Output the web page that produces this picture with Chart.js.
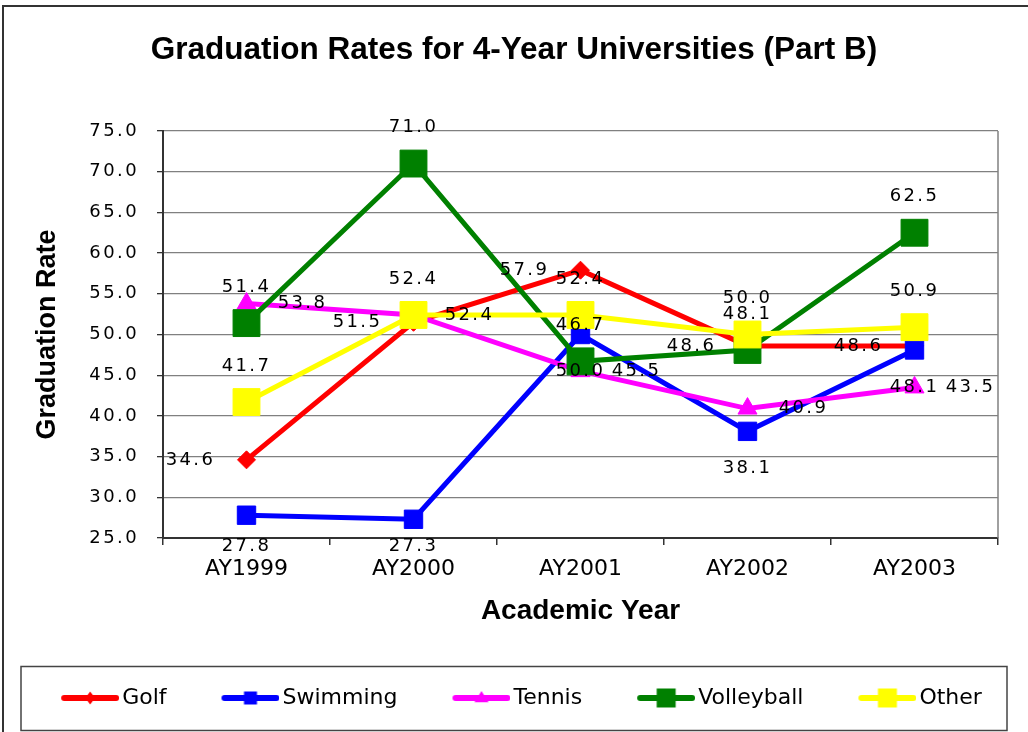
<!DOCTYPE html>
<html>
<head>
<meta charset="utf-8">
<title>Graduation Rates for 4-Year Universities (Part B)</title>
<script src="https://cdn.jsdelivr.net/npm/chart.js@4.4.1/dist/chart.umd.min.js"></script>
<style>
  html, body { margin: 0; padding: 0; background: #fff; }
  canvas { display: block; }
</style>
</head>
<body>
<canvas id="grad-chart" width="1028" height="732"></canvas>
<script>
// Data
const years = ['AY1999', 'AY2000', 'AY2001', 'AY2002', 'AY2003'];
const golf = [34.6, 51.5, 57.9, 48.6, 48.6];
const swimming = [27.8, 27.3, 50.0, 38.1, 48.1];
const tennis = [53.8, 52.4, 45.5, 40.9, 43.5];
const volleyball = [51.4, 71.0, 46.7, 48.1, 62.5];
const other = [41.7, 52.4, 52.4, 50.0, 50.9];
const seriesNames = ['Golf', 'Swimming', 'Tennis', 'Volleyball', 'Other'];
const yMin = 25, yMax = 75, yStep = 5;

// Styles per series (same order as seriesNames)
const seriesColors = ['#ff0000', '#0000ff', '#ff00ff', '#008000', '#ffff00'];
const markerStyles = ['rectRot', 'rect', 'triangle', 'rect', 'rect'];
const markerRadius = [9, 13, 11, 19, 19];
const legendShapes = ['diamond', 'square', 'triangle', 'square', 'square'];
const legendSizes = [13, 13, 14, 19, 19];
const labelSides = ['left', 'below', 'right', 'above', 'above'];

const LABEL_FONT = '18px "DejaVu Sans"';
const WIDE_SPACING = '2.4px';

// legend entry geometry: the icon sits at the right end of the legend "box"
const LEGEND_BOX_W = 65;
const LEGEND_ICON_W = 58;

// small canvas for each legend entry: line with marker on it
function makeLegendIcon(color, shape, size) {
    const c = document.createElement('canvas');
    c.width = LEGEND_BOX_W + 16;
    c.height = 24;
    const off = LEGEND_BOX_W - 42;
    const mid = off + LEGEND_ICON_W / 2;
    const g = c.getContext('2d');
    g.strokeStyle = color;
    g.fillStyle = color;
    g.lineWidth = 6;
    g.lineCap = 'round';
    g.beginPath();
    g.moveTo(off + 3, 12);
    g.lineTo(off + LEGEND_ICON_W - 3, 12);
    g.stroke();
    const h = size / 2;
    g.beginPath();
    if (shape === 'diamond') {
        g.moveTo(mid, 12 - h);
        g.lineTo(mid + h * 0.75, 12);
        g.lineTo(mid, 12 + h);
        g.lineTo(mid - h * 0.75, 12);
        g.closePath();
    } else if (shape === 'triangle') {
        g.moveTo(mid, 12 - h);
        g.lineTo(mid + h, 12 + h * 0.6);
        g.lineTo(mid - h, 12 + h * 0.6);
        g.closePath();
    } else {
        g.rect(mid - h, 12 - h, size, size);
    }
    g.fill();
    return c;
}

const allSeries = [golf, swimming, tennis, volleyball, other];
const legendIcons = seriesColors.map((col, i) => makeLegendIcon(col, legendShapes[i], legendSizes[i]));

const datasets = allSeries.map((values, i) => ({
    label: seriesNames[i],
    data: values,
    borderColor: seriesColors[i],
    backgroundColor: seriesColors[i],
    borderWidth: 5,
    tension: 0,
    pointStyle: markerStyles[i],
    pointRadius: markerRadius[i],
    pointHoverRadius: markerRadius[i],
    pointBackgroundColor: seriesColors[i],
    pointBorderColor: seriesColors[i],
    pointBorderWidth: 1,
    order: allSeries.length - i  // later series are drawn on top, like Excel
}));

// Frame, plot border and legend box
const framePlugin = {
    id: 'frame',
    beforeDatasetsDraw(chart) {
        const {ctx, chartArea} = chart;
        ctx.save();
        ctx.strokeStyle = '#808080';
        ctx.lineWidth = 1.5;
        ctx.beginPath();
        ctx.moveTo(chartArea.right, chartArea.top);
        ctx.lineTo(chartArea.right, chartArea.bottom);
        ctx.stroke();
        ctx.restore();
    },
    afterDraw(chart) {
        const ctx = chart.ctx;
        ctx.letterSpacing = '0px';
        ctx.save();
        ctx.strokeStyle = '#333';
        ctx.lineWidth = 2;
        ctx.beginPath();
        ctx.moveTo(3, chart.height);
        ctx.lineTo(3, 6);
        ctx.lineTo(chart.width, 6);
        ctx.stroke();
        ctx.lineWidth = 1.5;
        ctx.strokeStyle = '#444';
        ctx.strokeRect(21, 666.5, 986, 64);
        ctx.restore();
    }
};

// Value labels next to each point
const valueLabels = {
    id: 'valueLabels',
    afterDatasetsDraw(chart) {
        const {ctx, chartArea} = chart;
        ctx.save();
        ctx.font = LABEL_FONT;
        ctx.letterSpacing = WIDE_SPACING;
        ctx.fillStyle = '#000';
        ctx.textAlign = 'center';
        ctx.textBaseline = 'middle';
        chart.data.datasets.forEach((ds, i) => {
            const meta = chart.getDatasetMeta(i);
            meta.data.forEach((pt, j) => {
                let x = pt.x;
                let y = pt.y;
                const side = labelSides[i];
                if (side === 'left') x -= 56;
                else if (side === 'right') x += 56;
                else if (side === 'above') y -= 36;
                else y = Math.min(y + 37, chartArea.bottom + 8);
                ctx.fillText(ds.data[j].toFixed(1), x, y);
            });
        });
        ctx.restore();
        // y tick labels (z = 1) are drawn after this, with the same wide spacing
        ctx.letterSpacing = WIDE_SPACING;
    }
};

Chart.defaults.font.family = '"DejaVu Sans", Verdana, sans-serif';
Chart.defaults.color = '#000';

new Chart(document.getElementById('grad-chart'), {
    type: 'line',
    data: {
        labels: years,
        datasets: datasets
    },
    options: {
        responsive: false,
        animation: false,
        layout: {
            padding: {left: 0, right: 0, top: 0, bottom: 13}
        },
        plugins: {
            title: {
                display: true,
                text: 'Graduation Rates for 4-Year Universities (Part B)',
                color: '#000',
                font: {family: '"Liberation Sans", Arial, sans-serif', size: 31.5, weight: 'bold'},
                padding: {top: 31, bottom: 62.2}
            },
            legend: {
                position: 'bottom',
                labels: {
                    usePointStyle: true,
                    pointStyleWidth: LEGEND_BOX_W,
                    padding: 40,
                    color: '#000',
                    font: {size: 22},
                    generateLabels: (chart) => chart.data.datasets.map((ds, i) => ({
                        text: ds.label,
                        pointStyle: legendIcons[i],
                        fillStyle: ds.borderColor,
                        strokeStyle: ds.borderColor,
                        lineWidth: 0,
                        hidden: false,
                        datasetIndex: i
                    }))
                }
            },
            tooltip: {enabled: false}
        },
        scales: {
            x: {
                type: 'category',
                offset: true,
                afterFit: (scale) => { scale.height = 109; },
                grid: {
                    offset: true,
                    drawOnChartArea: false,
                    tickLength: 7,
                    color: '#333',
                    lineWidth: 1.5
                },
                border: {color: '#333', width: 2},
                ticks: {
                    font: {size: 22},
                    padding: 11,
                    color: '#000'
                },
                title: {
                    display: true,
                    text: 'Academic Year',
                    color: '#000',
                    font: {family: '"Liberation Sans", Arial, sans-serif', size: 28, weight: 'bold'},
                    padding: {top: 0, bottom: 19}
                }
            },
            y: {
                min: yMin,
                max: yMax,
                afterFit: (scale) => { scale.width = 163; },
                grid: {
                    color: '#808080',
                    tickColor: '#333',
                    lineWidth: 1.3,
                    tickLength: 6
                },
                border: {color: '#333', width: 2},
                ticks: {
                    stepSize: yStep,
                    font: {size: 18},
                    padding: 18,
                    color: '#000',
                    z: 1,
                    callback: (v) => v.toFixed(1)
                },
                title: {
                    display: true,
                    text: 'Graduation Rate',
                    color: '#000',
                    font: {family: '"Liberation Sans", Arial, sans-serif', size: 27, weight: 'bold'},
                    padding: {top: 31.8, bottom: 0}
                }
            },
            // empty axis that only keeps the right margin of the plot
            yRight: {
                position: 'right',
                afterFit: (scale) => { scale.width = 30; },
                grid: {display: false},
                border: {display: false},
                ticks: {display: false}
            }
        }
    },
    plugins: [framePlugin, valueLabels]
});
</script>
</body>
</html>
